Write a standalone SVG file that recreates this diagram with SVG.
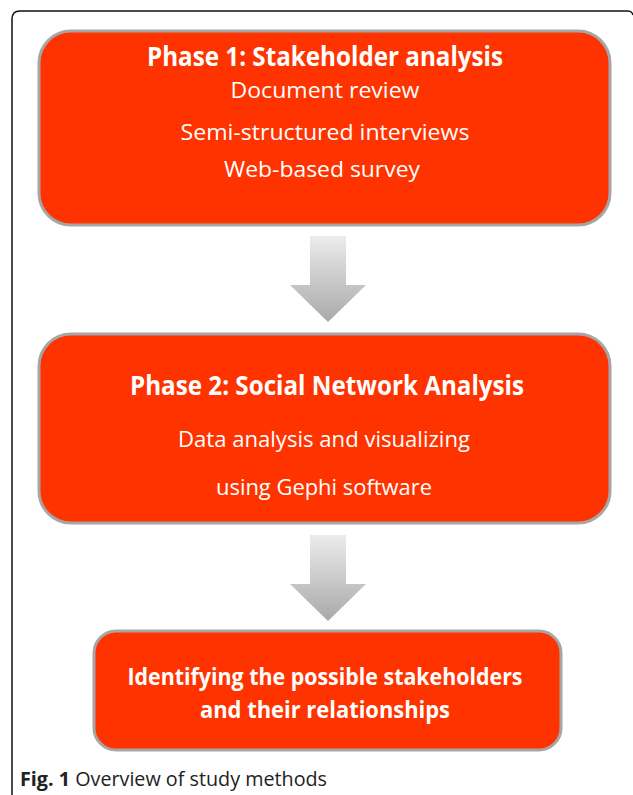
<svg xmlns="http://www.w3.org/2000/svg" width="633" height="795" viewBox="0 0 633 795">
<style>
.box{fill:#ff3300;stroke:#a6a6a6;stroke-width:3}
.t{font-family:"Open Sans","Liberation Sans",sans-serif;fill:#ffffff;text-anchor:middle}
.b{font-weight:bold}
.cap{font-family:"Open Sans","Liberation Sans",sans-serif;fill:#222;font-size:20px}
</style>
<defs>
<linearGradient id="ag" x1="0" y1="0" x2="0" y2="1">
<stop offset="0" stop-color="#ececec"/>
<stop offset="1" stop-color="#a9a9a9"/>
</linearGradient>
</defs>
<path d="M12,795 V19 Q12,11 20,11 H628 Q632,11 633,15" fill="none" stroke="#111" stroke-width="1.5"/>
<g id="phase1">
<rect class="box" x="39" y="31" width="571" height="194" rx="32"/>
<text class="t b" x="325" y="66" font-size="26" textLength="356" lengthAdjust="spacingAndGlyphs">Phase 1: Stakeholder analysis</text>
<text class="t" x="325" y="98" font-size="22" textLength="189" lengthAdjust="spacingAndGlyphs">Document review</text>
<text class="t" x="325" y="140" font-size="22" textLength="289" lengthAdjust="spacingAndGlyphs">Semi-structured interviews</text>
<text class="t" x="322" y="177" font-size="22" textLength="196" lengthAdjust="spacingAndGlyphs">Web-based survey</text>
</g>
<g id="connectors">
<path d="M310,236 H346 V285 H366 L328,322 L290,285 H310 Z" fill="url(#ag)"/>
<path d="M310,535 H346 V584 H366 L328,621 L290,584 H310 Z" fill="url(#ag)"/>
</g>
<g id="phase2">
<rect class="box" x="39" y="334" width="571" height="189" rx="32"/>
<text class="t b" x="327" y="395" font-size="26" textLength="394" lengthAdjust="spacingAndGlyphs">Phase 2: Social Network Analysis</text>
<text class="t" x="324" y="447" font-size="22" textLength="292" lengthAdjust="spacingAndGlyphs">Data analysis and visualizing</text>
<text class="t" x="324" y="495" font-size="22" textLength="216" lengthAdjust="spacingAndGlyphs">using Gephi software</text>
</g>
<g id="result">
<rect class="box" x="94" y="631" width="467" height="119" rx="22"/>
<text class="t b" x="325" y="685" font-size="24" textLength="395" lengthAdjust="spacingAndGlyphs">Identifying the possible stakeholders</text>
<text class="t b" x="325" y="718" font-size="24" textLength="250" lengthAdjust="spacingAndGlyphs">and their relationships</text>
</g>
<text class="cap" x="20" y="786" textLength="307" lengthAdjust="spacingAndGlyphs"><tspan font-weight="bold">Fig. 1</tspan> Overview of study methods</text>
</svg>
